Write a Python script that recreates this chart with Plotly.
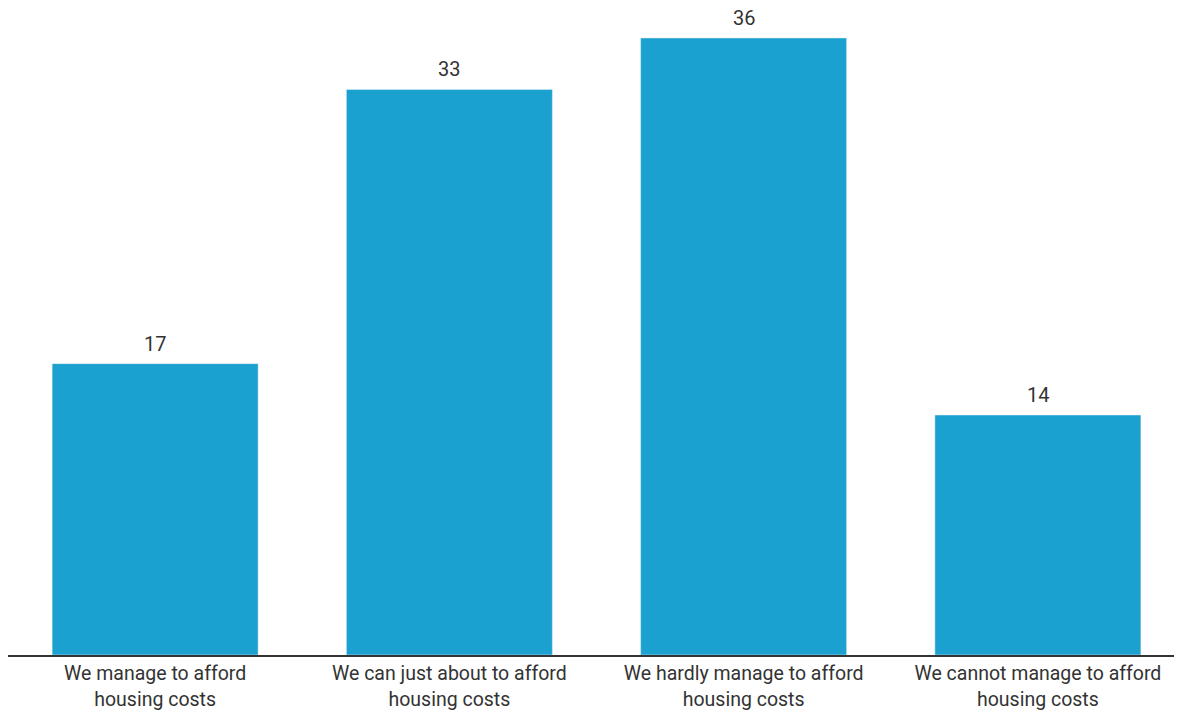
import plotly.graph_objects as go

categories = ["We manage to afford<br>housing costs",
              "We can just about to afford<br>housing costs",
              "We hardly manage to afford<br>housing costs",
              "We cannot manage to afford<br>housing costs"]
values = [17, 33, 36, 14]
labels = [str(v) for v in values]

fig = go.Figure(go.Bar(
    x=categories, y=values,
    marker_color="#1aa1cf",
    hoverinfo="x+y",
))

for c, v, t in zip(categories, values, labels):
    fig.add_annotation(x=c, y=v, text=t, showarrow=False, yanchor="bottom",
                       yshift=6, font=dict(family="Roboto", size=20, color="#333333"))

fig.update_layout(
    width=1177, height=711,
    margin=dict(l=0, r=0, t=0, b=64),
    plot_bgcolor="white", paper_bgcolor="white",
    bargap=0.3,
    showlegend=False,
    font=dict(family="Roboto", size=20, color="#333333"),
    xaxis=dict(showline=True, linecolor="#333333", linewidth=1.5,
               ticks="", ticklabelstandoff=0,
               tickfont=dict(family="Roboto", size=19.5, color="#333333")),
    yaxis=dict(range=[0, 37.75], showgrid=False, showticklabels=False,
               zeroline=False, showline=False),
)

fig.write_html("out.html")
